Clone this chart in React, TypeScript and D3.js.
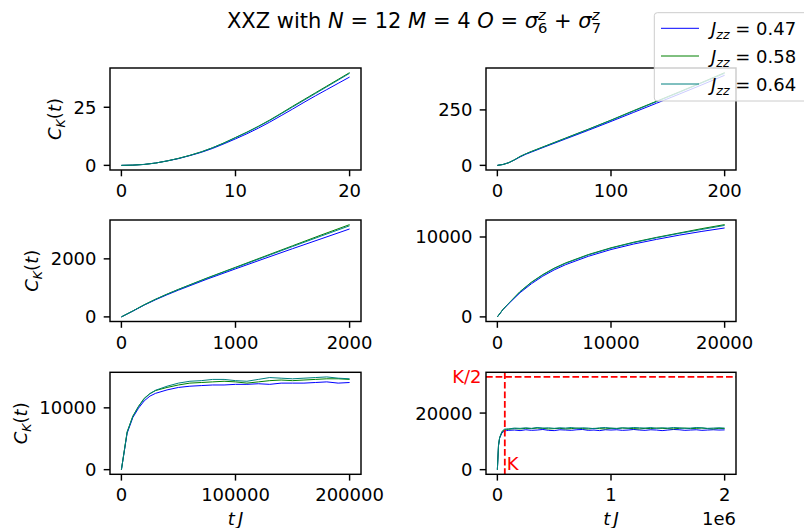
import React from "react";
import * as d3 from "d3";

// ---------- data ----------
const seriesLabels = ["0.47", "0.58", "0.64"];
const seriesColors = ["#0000ff", "#008000", "#008080"];

const t1 = [0, 1, 2, 3, 4, 5, 6, 7, 8, 9, 10, 11, 12, 13, 14, 15, 16, 17, 18, 19, 20];
const blue1 = [0, 0.1, 0.4, 1.0, 1.9, 2.9, 4.2, 5.6, 7.3, 9.3, 11.4, 13.6, 16.0, 18.6, 21.4, 24.2, 27.1, 29.9, 32.6, 35.3, 38.0];
const green1 = [0, 0.1, 0.4, 1.0, 1.9, 3.0, 4.3, 5.8, 7.6, 9.7, 12.0, 14.3, 16.8, 19.5, 22.4, 25.4, 28.3, 31.2, 34.1, 37.0, 39.9];
const teal1 = [0, 0.1, 0.4, 1.0, 1.9, 3.0, 4.3, 5.8, 7.6, 9.6, 11.9, 14.2, 16.7, 19.3, 22.2, 25.1, 28.0, 30.9, 33.8, 36.7, 39.6];

const t2 = [0, 5, 10, 15, 20, 25, 30, 40, 60, 80, 100, 120, 140, 160, 180, 200];
const blue2 = [0, 4, 12, 24, 38, 50, 60, 80, 119, 158, 198, 239, 280, 321, 363, 406];
const green2 = [0, 4, 12, 25, 40, 52, 63, 83, 123, 163, 204, 247, 289, 331, 374, 418];
const teal2 = [0, 4, 12, 25, 40, 52, 62, 82, 122, 162, 203, 245, 287, 329, 372, 415];

const t3 = [0, 100, 200, 300, 400, 500, 750, 1000, 1250, 1500, 1750, 2000];
const blue3 = [0, 198, 406, 592, 762, 922, 1300, 1655, 2005, 2350, 2690, 3030];
const green3 = [0, 204, 418, 610, 785, 950, 1340, 1710, 2080, 2450, 2820, 3180];
const teal3 = [0, 203, 415, 606, 780, 944, 1330, 1695, 2060, 2425, 2785, 3140];

const t4 = [0, 500, 1000, 2000, 3000, 4000, 5000, 6000, 8000, 10000, 12000, 14000, 16000, 18000, 20000];
const blue4 = [0, 922, 1655, 3030, 4150, 5100, 5880, 6530, 7580, 8430, 9120, 9700, 10230, 10700, 11130];
const green4 = [0, 950, 1710, 3180, 4350, 5300, 6100, 6750, 7800, 8650, 9350, 9950, 10500, 11050, 11550];
const teal4 = [0, 944, 1695, 3140, 4300, 5250, 6050, 6700, 7750, 8600, 9300, 9900, 10450, 10950, 11450];

const t5 = [0, 5000, 10000, 15000, 20000, 25000, 30000, 40000, 50000, 60000, 70000, 80000, 90000, 100000, 110000, 120000, 130000, 140000, 150000, 160000, 170000, 180000, 190000, 200000];
const blue5 = [0, 5880, 8430, 9950, 11130, 11900, 12350, 12900, 13300, 13500, 13600, 13700, 13700, 13800, 13800, 13900, 13800, 14000, 14000, 14000, 14100, 14200, 14000, 14100];
const green5 = [0, 6100, 8650, 10250, 11550, 12300, 12800, 13300, 13700, 14000, 14100, 14200, 14300, 14200, 14000, 14200, 14400, 14500, 14400, 14500, 14600, 14700, 14700, 14600];
const teal5 = [0, 6050, 8600, 10200, 11450, 12300, 12850, 13500, 14000, 14300, 14400, 14600, 14600, 14400, 14300, 14600, 14900, 14800, 14700, 14800, 14900, 15000, 14800, 14700];

// t6 in units of 1e6
const t6 = [0, 0.01, 0.02, 0.04, 0.06, 0.08, 0.10, 0.15, 0.20, 0.25, 0.30, 0.35, 0.40, 0.45, 0.50, 0.55, 0.60, 0.65, 0.70, 0.75, 0.80, 0.85, 0.90, 0.95, 1.00, 1.05, 1.10, 1.15, 1.20, 1.25, 1.30, 1.35, 1.40, 1.45, 1.50, 1.55, 1.60, 1.65, 1.70, 1.75, 1.80, 1.85, 1.90, 1.95, 2.00];
const blue6 = [0, 8450, 11100, 13000, 13600, 13800, 13900, 14000, 13800, 14100, 13900, 14000, 14200, 13900, 13800, 14100, 14000, 13900, 14100, 14200, 13900, 14000, 13800, 14100, 14000, 14100, 13900, 14000, 14200, 14000, 13900, 14100, 14000, 13800, 14000, 14200, 14100, 13900, 14000, 14100, 13900, 14000, 14100, 14000, 14050];
const green6 = [0, 8600, 11300, 13200, 14000, 14200, 14300, 14500, 14400, 14600, 14500, 14700, 14600, 14400, 14500, 14600, 14400, 14500, 14700, 14500, 14400, 14600, 14500, 14400, 14600, 14500, 14700, 14600, 14500, 14400, 14600, 14500, 14700, 14600, 14500, 14400, 14600, 14700, 14500, 14600, 14700, 14500, 14400, 14600, 14500];
const teal6 = [0, 8650, 11350, 13500, 14300, 14400, 14400, 14700, 14600, 14800, 14600, 14900, 14700, 14800, 14600, 14800, 14700, 14900, 14600, 14800, 14700, 14500, 14800, 14900, 14700, 14600, 14800, 14700, 14900, 14800, 14700, 14900, 14600, 14800, 14700, 14900, 14800, 14600, 14700, 14900, 14800, 14600, 14700, 14800, 14700];

const K = 65536;
const Khalf = K / 2;

const xTicks = [[0, 10, 20], [0, 100, 200], [0, 1000, 2000], [0, 10000, 20000], [0, 100000, 200000], [0, 1, 2]];
const yTicks = [[0, 25], [0, 250], [0, 2000], [0, 10000], [0, 10000], [0, 20000]];

// ---------- layout ----------
const COLS = [[110, 361], [486, 736]];
const ROWS = [[68, 170], [220, 321.5], [372.3, 474.3]];
const YLABEL_X = [55, 32, 21];
const FONT = "DejaVu Sans, sans-serif";
const FS = 18;
const SUB = 12.6;
const TFS = 21;
const TSUB = 14.7;

function pad(min: number, max: number): [number, number] {
  const s = max - min;
  return [min - 0.05 * s, max + 0.05 * s];
}

function Panel({ idx, t, series, extraY }: { idx: number; t: number[]; series: number[][]; extraY?: number }) {
  const col = idx % 2;
  const row = Math.floor(idx / 2);
  const [x0, x1] = COLS[col];
  const [y0, y1] = ROWS[row];
  const xs = d3.scaleLinear().domain(pad(d3.min(t)!, d3.max(t)!)).range([x0, x1]);
  let ymin = d3.min(series.flat())!;
  let ymax = d3.max(series.flat())!;
  if (extraY !== undefined) ymax = Math.max(ymax, extraY);
  const ys = d3.scaleLinear().domain(pad(ymin, ymax)).range([y1, y0]);
  return (
    <g>
      {series.map((s, si) => {
        const line = d3.line<number>().x((_, i) => xs(t[i])).y((d) => ys(d));
        return <path key={si} d={line(s) || ""} fill="none" stroke={seriesColors[si]} strokeWidth={1} />;
      })}
      {idx === 5 && (
        <g>
          <line x1={x0} x2={x1} y1={ys(Khalf)} y2={ys(Khalf)} stroke="red" strokeWidth={1.8} strokeDasharray="6.7 2.9" />
          <line x1={xs(K / 1e6)} x2={xs(K / 1e6)} y1={y0} y2={y1} stroke="red" strokeWidth={1.8} strokeDasharray="6.7 2.9" />
          <text x={x0 - 4.5} y={ys(Khalf)} dy="0.36em" textAnchor="end" fill="red" fontSize={FS} fontFamily={FONT}>K/2</text>
          <text x={xs(K / 1e6) + 2} y={ys(0)} fill="red" fontSize={FS} fontFamily={FONT}>K</text>
        </g>
      )}
      <rect x={x0} y={y0} width={x1 - x0} height={y1 - y0} fill="none" stroke="black" strokeWidth={1.44} />
      {xTicks[idx].map((v) => (
        <g key={"x" + v}>
          <line x1={xs(v)} x2={xs(v)} y1={y1} y2={y1 + 6.3} stroke="black" strokeWidth={1.44} />
          <text x={xs(v)} y={y1 + 27} textAnchor="middle" fontSize={FS} fontFamily={FONT}>{String(v)}</text>
        </g>
      ))}
      {yTicks[idx].map((v) => (
        <g key={"y" + v}>
          <line x1={x0} x2={x0 - 6.3} y1={ys(v)} y2={ys(v)} stroke="black" strokeWidth={1.44} />
          <text x={x0 - 13.5} y={ys(v)} dy="0.36em" textAnchor="end" fontSize={FS} fontFamily={FONT}>{String(v)}</text>
        </g>
      ))}
      {col === 0 && (
        <text transform={`translate(${YLABEL_X[row] + 6},${(y0 + y1) / 2}) rotate(-90)`} textAnchor="middle" fontSize={FS} fontFamily={FONT}>
          <tspan fontStyle="italic">C</tspan>
          <tspan fontStyle="italic" fontSize={SUB} dy={4}>K</tspan>
          <tspan dy={-4}>(</tspan>
          <tspan fontStyle="italic">t</tspan>
          <tspan>)</tspan>
        </text>
      )}
      {row === 2 && (
        <text x={(x0 + x1) / 2} y={525} textAnchor="middle" fontSize={FS} fontFamily={FONT} fontStyle="italic">
          <tspan>t</tspan>
          <tspan dx={3}>J</tspan>
        </text>
      )}
      {idx === 5 && (
        <text x={x1} y={525} textAnchor="end" fontSize={FS} fontFamily={FONT}>1e6</text>
      )}
    </g>
  );
}

export default function App() {
  const panels = [
    { t: t1, s: [blue1, green1, teal1] },
    { t: t2, s: [blue2, green2, teal2] },
    { t: t3, s: [blue3, green3, teal3] },
    { t: t4, s: [blue4, green4, teal4] },
    { t: t5, s: [blue5, green5, teal5] },
    { t: t6, s: [blue6, green6, teal6] },
  ];
  const legendRows = [28.3, 56, 84];
  return (
    <svg width={804} height={528} style={{ position: "absolute", left: 0, top: 0, background: "white" }}>
      <rect x={0} y={0} width={804} height={528} fill="white" />
      {panels.map((p, i) => (
        <Panel key={i} idx={i} t={p.t} series={p.s} extraY={i === 5 ? Khalf : undefined} />
      ))}
      <text x={414} y={28.3} textAnchor="middle" fontSize={TFS} fontFamily={FONT}>
        <tspan>XXZ with </tspan>
        <tspan fontStyle="italic">N</tspan>
        <tspan> = 12 </tspan>
        <tspan fontStyle="italic">M</tspan>
        <tspan> = 4 </tspan>
        <tspan fontStyle="italic">O</tspan>
        <tspan> = </tspan>
        <tspan fontStyle="italic">σ</tspan>
        <tspan fontStyle="italic" fontSize={TSUB} dy={-8}>z</tspan>
        <tspan fontSize={TSUB} dx={-7.7} dy={13}>6</tspan>
        <tspan dy={-5}> + </tspan>
        <tspan fontStyle="italic">σ</tspan>
        <tspan fontStyle="italic" fontSize={TSUB} dy={-8}>z</tspan>
        <tspan fontSize={TSUB} dx={-7.7} dy={13}>7</tspan>
      </text>
      <g>
        <rect x={654.3} y={12.7} width={170} height={88.3} rx={3} fill="white" fillOpacity={0.8} stroke="#cccccc" strokeWidth={1} />
        {seriesLabels.map((lab, i) => (
          <g key={lab}>
            <line x1={661} x2={699} y1={legendRows[i]} y2={legendRows[i]} stroke={seriesColors[i]} strokeWidth={1} />
            <text x={711} y={legendRows[i] + 6.7} fontSize={FS} fontFamily={FONT}>
              <tspan fontStyle="italic">J</tspan>
              <tspan fontStyle="italic" fontSize={SUB} dy={4}>zz</tspan>
              <tspan dy={-4}>{" = " + lab}</tspan>
            </text>
          </g>
        ))}
      </g>
    </svg>
  );
}
